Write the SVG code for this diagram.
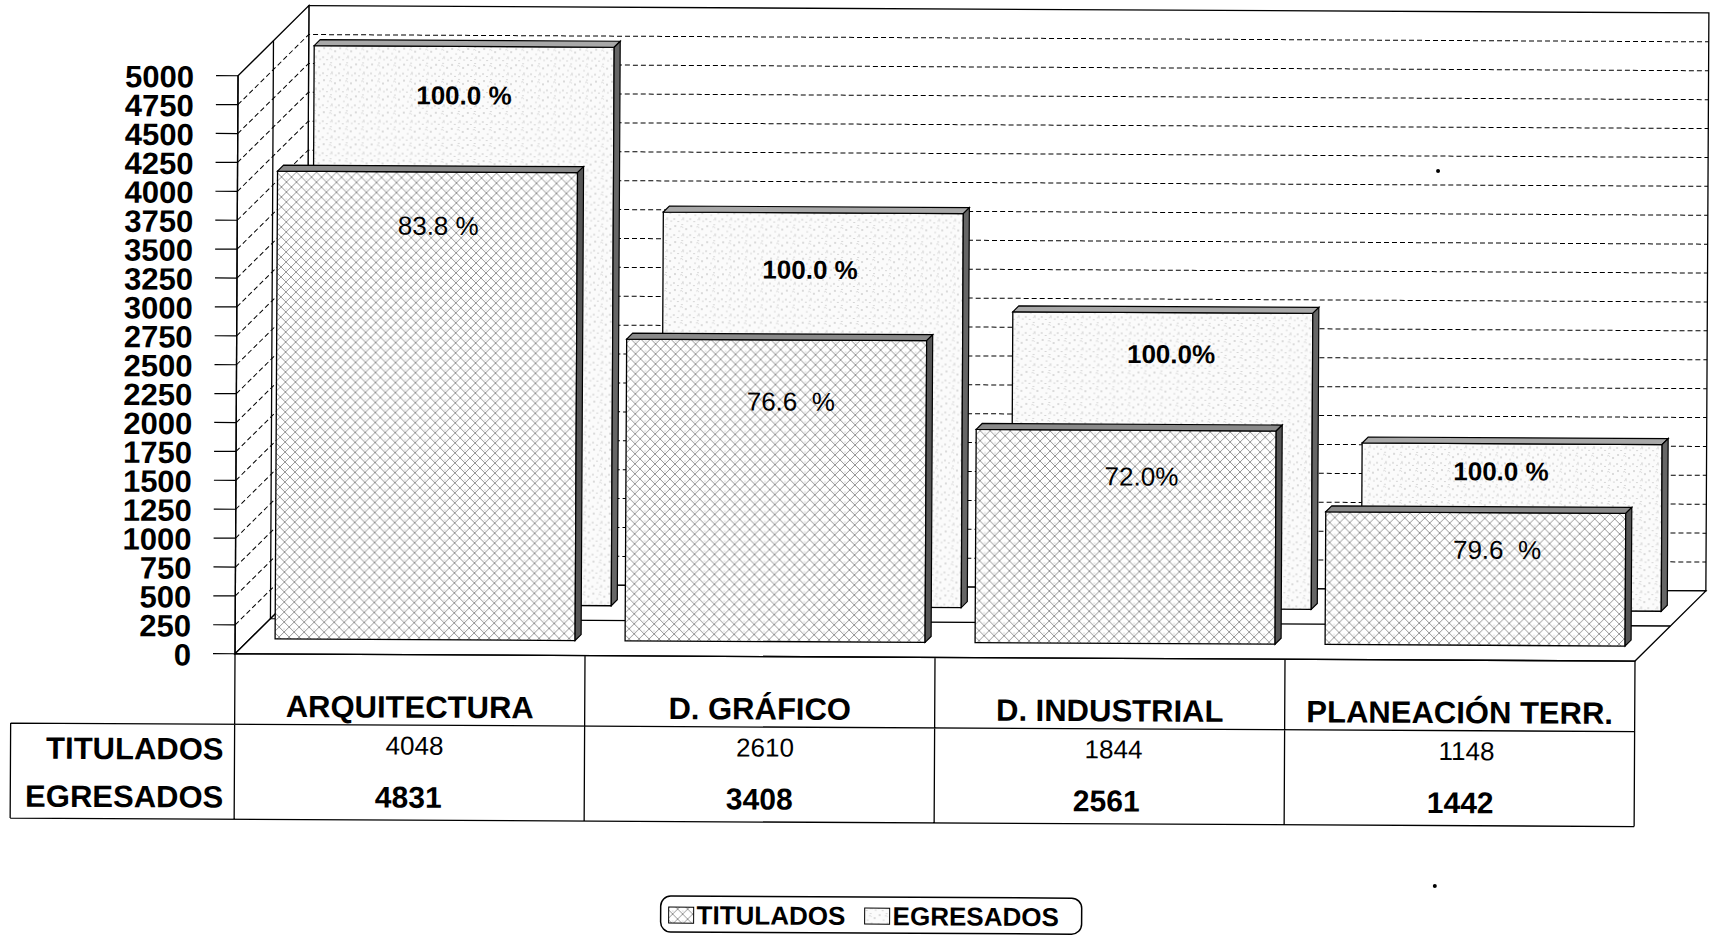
<svg xmlns="http://www.w3.org/2000/svg" width="1711" height="935" viewBox="0 0 1711 935">
<style>
text{font-family:"Liberation Sans",Arial,sans-serif;fill:#000}
.ax{font-size:31px;font-weight:bold;text-anchor:end}
.cat{font-size:31px;font-weight:bold;text-anchor:middle}
.tv{font-size:26px;text-anchor:middle}
.ev{font-size:30px;font-weight:bold;text-anchor:middle}
.pb{font-size:26px;font-weight:bold;text-anchor:middle}
.pr{font-size:26px;text-anchor:middle}
.rl{font-size:31px;font-weight:bold;text-anchor:end}
.lg{font-size:26px;font-weight:bold}
.wall{fill:#fff;stroke:#000;stroke-width:1.3}
.grid{fill:none;stroke:#000;stroke-width:1;stroke-dasharray:5 3}
.tick{stroke:#000;stroke-width:1.2}
.ln{stroke:#000;stroke-width:1.3;fill:none}
.egr{fill:url(#stip);stroke:#000;stroke-width:1.3}
.tit{fill:url(#hatch);stroke:#000;stroke-width:1.3}
.etop{fill:#a8a8a8;stroke:#000;stroke-width:1.2}
.eside{fill:#666;stroke:#000;stroke-width:1.2}
.ttop{fill:#8a8a8a;stroke:#000;stroke-width:1.2}
.tside{fill:#555;stroke:#000;stroke-width:1.2}
</style>
<defs>
<pattern id="hatch" patternUnits="userSpaceOnUse" width="10" height="10">
<rect width="10" height="10" fill="#fff"/>
<path d="M0,0 L10,10 M10,0 L0,10" stroke="#7a7a7a" stroke-width="0.8" fill="none"/>
<circle cx="5" cy="2" r="0.5" fill="#999"/>
</pattern>
<pattern id="stip" patternUnits="userSpaceOnUse" width="16" height="16">
<rect width="16" height="16" fill="#fbfbfb"/>
<circle cx="2" cy="3" r="0.7" fill="#a0a0a0"/>
<circle cx="9" cy="1.5" r="0.6" fill="#b0b0b0"/>
<circle cx="13" cy="6" r="0.7" fill="#a0a0a0"/>
<circle cx="6" cy="8" r="0.6" fill="#aaa"/>
<circle cx="1" cy="12" r="0.7" fill="#b0b0b0"/>
<circle cx="10" cy="11" r="0.6" fill="#a0a0a0"/>
<circle cx="14" cy="14" r="0.6" fill="#aaa"/>
<circle cx="5" cy="14.5" r="0.6" fill="#a8a8a8"/>
<path d="M7,4 a2,2 0 0 1 3,1 M11,13 a2,2 0 0 0 -3,0" stroke="#bbb" stroke-width="0.5" fill="none"/>
</pattern>
</defs>
<rect width="1711" height="935" fill="#fff"/>
<g transform="rotate(0.3 855 467)">
<g id="walls">
<rect class="wall" x="306.5" y="8.5" width="1400" height="578"/>
<polygon class="wall" points="236,79 306.5,8.5 306.5,586.5 236,657"/>
<polygon class="wall" points="236,657 1636,657 1706.5,586.5 306.5,586.5"/>
</g>
<g id="gridlines">
<path class="grid" d="M236,628.1 L306.5,557.6 H1706.5 M236,599.2 L306.5,528.7 H1706.5 M236,570.3 L306.5,499.8 H1706.5 M236,541.4 L306.5,470.9 H1706.5 M236,512.5 L306.5,442 H1706.5 M236,483.6 L306.5,413.1 H1706.5 M236,454.7 L306.5,384.2 H1706.5 M236,425.8 L306.5,355.3 H1706.5 M236,396.9 L306.5,326.4 H1706.5 M236,368 L306.5,297.5 H1706.5 M236,339.1 L306.5,268.6 H1706.5 M236,310.2 L306.5,239.7 H1706.5 M236,281.3 L306.5,210.8 H1706.5 M236,252.4 L306.5,181.9 H1706.5 M236,223.5 L306.5,153 H1706.5 M236,194.6 L306.5,124.1 H1706.5 M236,165.7 L306.5,95.2 H1706.5 M236,136.8 L306.5,66.3 H1706.5 M236,107.9 L306.5,37.4 H1706.5"/>
<path class="ln" d="M271.25,43.75 V621.75 H1671.25"/>
<path class="ln" d="M236,79 V657"/>
<path class="tick" d="M214,657H236 M214,628.1H236 M214,599.2H236 M214,570.3H236 M214,541.4H236 M214,512.5H236 M214,483.6H236 M214,454.7H236 M214,425.8H236 M214,396.9H236 M214,368H236 M214,339.1H236 M214,310.2H236 M214,281.3H236 M214,252.4H236 M214,223.5H236 M214,194.6H236 M214,165.7H236 M214,136.8H236 M214,107.9H236 M214,79H236"/>
</g>
<g id="yaxis-labels">
<text class="ax" x="192" y="669">0</text>
<text class="ax" x="192" y="640.1">250</text>
<text class="ax" x="192" y="611.2">500</text>
<text class="ax" x="192" y="582.3">750</text>
<text class="ax" x="192" y="553.4">1000</text>
<text class="ax" x="192" y="524.5">1250</text>
<text class="ax" x="192" y="495.6">1500</text>
<text class="ax" x="192" y="466.7">1750</text>
<text class="ax" x="192" y="437.8">2000</text>
<text class="ax" x="192" y="408.9">2250</text>
<text class="ax" x="192" y="380">2500</text>
<text class="ax" x="192" y="351.1">2750</text>
<text class="ax" x="192" y="322.2">3000</text>
<text class="ax" x="192" y="293.3">3250</text>
<text class="ax" x="192" y="264.4">3500</text>
<text class="ax" x="192" y="235.5">3750</text>
<text class="ax" x="192" y="206.6">4000</text>
<text class="ax" x="192" y="177.7">4250</text>
<text class="ax" x="192" y="148.8">4500</text>
<text class="ax" x="192" y="119.9">4750</text>
<text class="ax" x="192" y="91">5000</text>
</g>
<g id="egresados-arquitectura">
<rect class="egr" x="312" y="48.5" width="300" height="558.5"/>
<polygon class="etop" points="312,48.5 318,42.5 618,42.5 612,48.5"/>
<polygon class="eside" points="612,48.5 618,42.5 618,601 612,607"/>
<text class="pb" x="462" y="106.5">100.0 %</text>
</g>
<g id="egresados-grafico">
<rect class="egr" x="662" y="213" width="300" height="394"/>
<polygon class="etop" points="662,213 668,207 968,207 962,213"/>
<polygon class="eside" points="962,213 968,207 968,601 962,607"/>
<text class="pb" x="809" y="279">100.0 %</text>
</g>
<g id="egresados-industrial">
<rect class="egr" x="1012" y="311" width="300" height="296"/>
<polygon class="etop" points="1012,311 1018,305 1318,305 1312,311"/>
<polygon class="eside" points="1312,311 1318,305 1318,601 1312,607"/>
<text class="pb" x="1170.5" y="361.5">100.0%</text>
</g>
<g id="egresados-planeacion">
<rect class="egr" x="1362" y="440.3" width="300" height="166.7"/>
<polygon class="etop" points="1362,440.3 1368,434.3 1668,434.3 1662,440.3"/>
<polygon class="eside" points="1662,440.3 1668,434.3 1668,601 1662,607"/>
<text class="pb" x="1501" y="477">100.0 %</text>
</g>
<g id="titulados-arquitectura">
<rect class="tit" x="276" y="174.1" width="300" height="467.9"/>
<polygon class="ttop" points="276,174.1 282,168.1 582,168.1 576,174.1"/>
<polygon class="tside" points="576,174.1 582,168.1 582,636 576,642"/>
<text class="pr" x="437" y="237">83.8 %</text>
</g>
<g id="titulados-grafico">
<rect class="tit" x="626" y="340.3" width="300" height="301.7"/>
<polygon class="ttop" points="626,340.3 632,334.3 932,334.3 926,340.3"/>
<polygon class="tside" points="926,340.3 932,334.3 932,636 926,642"/>
<text class="pr" x="790.5" y="411" xml:space="preserve">76.6  %</text>
</g>
<g id="titulados-industrial">
<rect class="tit" x="976" y="428.8" width="300" height="213.2"/>
<polygon class="ttop" points="976,428.8 982,422.8 1282,422.8 1276,428.8"/>
<polygon class="tside" points="1276,428.8 1282,422.8 1282,636 1276,642"/>
<text class="pr" x="1141.5" y="484">72.0%</text>
</g>
<g id="titulados-planeacion">
<rect class="tit" x="1326" y="509.3" width="300" height="132.7"/>
<polygon class="ttop" points="1326,509.3 1332,503.3 1632,503.3 1626,509.3"/>
<polygon class="tside" points="1626,509.3 1632,503.3 1632,636 1626,642"/>
<text class="pr" x="1497.5" y="555.5" xml:space="preserve">79.6  %</text>
</g>
<g id="data-table">
<path class="ln" d="M236,657 H1636 M12,727.5 H1636 M12,822.5 H1636 M12,727.5 V822.5 M236,657 V822.5 M586,657 V822.5 M936,657 V822.5 M1286,657 V822.5 M1636,657 V822.5"/>
<text class="cat" x="411" y="720">ARQUITECTURA</text>
<text class="cat" x="761" y="720">D. GRÁFICO</text>
<text class="cat" x="1111" y="720">D. INDUSTRIAL</text>
<text class="cat" x="1461" y="720">PLANEACIÓN TERR.</text>
<text class="rl" x="225" y="763">TITULADOS</text>
<text class="rl" x="225" y="811">EGRESADOS</text>
<text class="tv" x="416" y="757">4048</text>
<text class="tv" x="766.5" y="757">2610</text>
<text class="tv" x="1115" y="757">1844</text>
<text class="tv" x="1468" y="757">1148</text>
<text class="ev" x="410" y="810">4831</text>
<text class="ev" x="761" y="810">3408</text>
<text class="ev" x="1108" y="810">2561</text>
<text class="ev" x="1462" y="810">1442</text>
</g>
<g id="legend">
<rect x="663" y="897" width="421" height="36" rx="10" fill="#fff" stroke="#000" stroke-width="1.5"/>
<rect x="671" y="908" width="25" height="16" fill="url(#hatch)" stroke="#000" stroke-width="1"/>
<text class="lg" x="699" y="925">TITULADOS</text>
<rect x="867" y="908" width="25" height="16" fill="url(#stip)" stroke="#000" stroke-width="1"/>
<text class="lg" x="895" y="925">EGRESADOS</text>
</g>
<g id="specks">
<circle cx="1436.5" cy="168" r="2" fill="#000"/>
<circle cx="1437" cy="883" r="2" fill="#000"/>
</g>
</g>
</svg>
